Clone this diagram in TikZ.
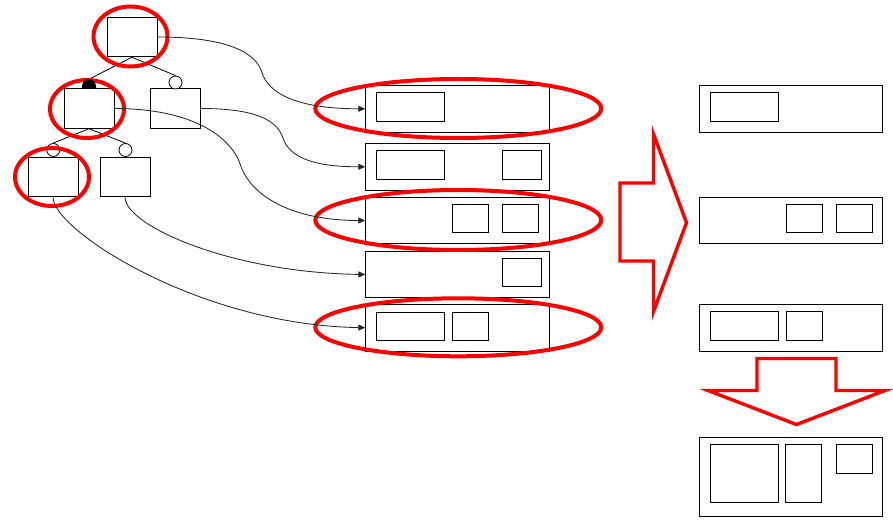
\documentclass[tikz,border=0pt]{standalone}
\usetikzlibrary{arrows.meta}
\begin{document}
\begin{tikzpicture}[x=1pt, y=-1pt,
  box/.style={shape=rectangle, draw=black, fill=white, line width=0.9pt, inner sep=0pt, minimum width=50pt, minimum height=39.5pt},
  row/.style={shape=rectangle, draw=black, line width=0.9pt, inner sep=0pt, minimum width=183.5pt, minimum height=46.5pt},
  ring/.style={draw=red, line width=4pt},
  link/.style={-{Triangle[length=7pt,width=6pt]}, line width=0.85pt, draw=black!85}]
\useasboundingbox (0,0) rectangle (893,526);
% tree
\node[box] (T1) at (132,37) {};
\node[box] (T2) at (89,108.5) {};
\node[box] (T3) at (175,108.5) {};
\node[box] (T4) at (53,177) {};
\node[box] (T5) at (125,177) {};
\coordinate (C1) at (89.5,79);
\node[shape=circle, draw=black, fill=white, line width=0.8pt, inner sep=0pt, minimum size=13pt] (C2) at (175.5,82.5) {};
\node[shape=circle, draw=black, fill=white, line width=0.8pt, inner sep=0pt, minimum size=13pt] (C3) at (53.3,150) {};
\node[shape=circle, draw=black, fill=white, line width=0.8pt, inner sep=0pt, minimum size=13pt] (C4) at (125.5,150) {};
\path [-, line width=0.8pt, draw=black] (T1.south) edge (C1);
\path [-, line width=0.8pt, draw=black] (T1.south) edge (C2.north);
\path [-, line width=0.8pt, draw=black] (T2.south) edge (C3.north);
\path [-, line width=0.8pt, draw=black] (T2.south) edge (C4.north);
% rows
\node[row] (R1) at (457.5,108.8) {};
\node[row] (R2) at (457.5,166.8) {};
\node[row] (R3) at (457.5,220.5) {};
\node[row] (R4) at (457.5,274.5) {};
\node[row] (R5) at (457.5,327.7) {};
\draw[line width=0.9pt] (376.3,92.3) rectangle ++(68,29);
\draw[line width=0.9pt] (376.3,150.3) rectangle ++(68,29);
\draw[line width=0.9pt] (502.3,150.3) rectangle ++(39,29);
\draw[line width=0.9pt] (452.3,204.3) rectangle ++(36,28);
\draw[line width=0.9pt] (502.3,204.3) rectangle ++(36,28);
\draw[line width=0.9pt] (502.3,258.3) rectangle ++(39,28);
\draw[line width=0.9pt] (376.3,312.3) rectangle ++(68,28);
\draw[line width=0.9pt] (452.3,312.3) rectangle ++(36,28);
% result column
\node[row] (S1) at (791,108.8) {};
\node[row] (S2) at (791,220.3) {};
\node[row] (S3) at (791,327.8) {};
\node[row, minimum height=78.5pt] (S4) at (791,477) {};
\draw[line width=0.9pt] (710.3,92.3) rectangle ++(68,29);
\draw[line width=0.9pt] (786.3,204.3) rectangle ++(36,28);
\draw[line width=0.9pt] (836.3,204.3) rectangle ++(36,28);
\draw[line width=0.9pt] (710.3,311.3) rectangle ++(68,29);
\draw[line width=0.9pt] (786.3,311.3) rectangle ++(36,29);
\draw[line width=0.9pt] (710.3,444.3) rectangle ++(68,58);
\draw[line width=0.9pt] (785.3,444.3) rectangle ++(36,58);
\draw[line width=0.9pt] (836.3,444.3) rectangle ++(36,29);
% red marks
\draw[ring] (130.5,36.5) ellipse [x radius=37, y radius=30];
\draw[ring] (87,109) ellipse [x radius=37, y radius=29];
\draw[ring] (52,177) ellipse [x radius=37, y radius=29];
\draw[ring] (458.3,108.5) ellipse [x radius=143, y radius=29.5];
\draw[ring] (458.3,220) ellipse [x radius=143, y radius=30];
\draw[ring] (458.3,327.3) ellipse [x radius=143, y radius=29];
\draw[draw=red, line width=3.4pt, fill=white] (620,183) -- (653.5,183) -- (653.5,134) -- (686.5,222.7)
  -- (653.5,311.5) -- (653.5,261) -- (620,261) -- cycle;
\draw[draw=red, line width=3.4pt, fill=white] (757,358.5) -- (836,358.5) -- (836,390.5) -- (885,390.5)
  -- (796.5,424.5) -- (708,390.5) -- (757,390.5) -- cycle;
% black mark on T2
\fill[black] (T2.north) ++(-7.3,0) arc[start angle=180, end angle=360, x radius=7.3, y radius=9.8] -- cycle;
% links
\draw[link] (T1.east) .. controls +(70,0) and +(-6,-20) .. ++(104.5,35.5) .. controls +(6,20) and +(-70,0) .. (R1.west);
\draw[link] (T3.east) .. controls +(55,0) and +(-6,-18) .. ++(82.5,29.5) .. controls +(6,18) and +(-55,0) .. (R2.west);
\draw[link] (T2.east) .. controls +(75,0) and +(-10,-30) .. ++(126,56.5) .. controls +(10,30) and +(-75,0) .. (R3.west);
\draw[link] (T5.south) .. controls +(0,28) and +(-135.7,-2) .. (R4.west);
\draw[link] (T4.south) .. controls +(0,33) and +(-165.7,-2.7) .. (R5.west);
\end{tikzpicture}
\end{document}
